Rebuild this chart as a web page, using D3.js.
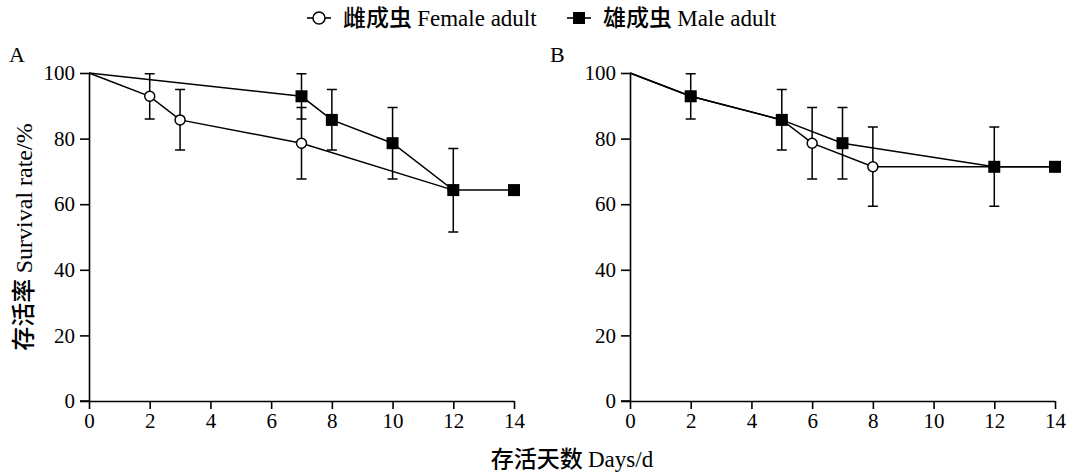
<!DOCTYPE html>
<html>
<head>
<meta charset="utf-8">
<script src="https://cdn.jsdelivr.net/npm/d3@7"></script>
<style>
  body { margin: 0; background: #fff; }
  svg text { font-family: "Liberation Serif", "Times New Roman", serif; fill: #000; }
  .cjk { font-family: "Noto Sans CJK SC", sans-serif; font-weight: 500; }
</style>
</head>
<body>
<div id="chart"></div>
<script>
const xTicks = [0, 2, 4, 6, 8, 10, 12, 14];
const yTicks = [0, 20, 40, 60, 80, 100];

// Panel A
const aFemaleDays = [0, 2, 3, 7, 12];
const aFemaleRate = [100, 92.9, 85.7, 78.6, 64.3];
const aFemaleLow  = [null, 86, 76.5, 67.7, null];
const aFemaleHigh = [null, 99.8, 95, 89.5, null];

const aMaleDays = [0, 7, 8, 10, 12, 14];
const aMaleRate = [100, 92.9, 85.7, 78.6, 64.3, 64.3];
const aMaleLow  = [null, 86, 76.5, 67.7, 51.5, null];
const aMaleHigh = [null, 99.8, 95, 89.5, 77, null];

// Panel B
const bFemaleDays = [0, 2, 5, 6, 8, 12, 14];
const bFemaleRate = [100, 92.9, 85.7, 78.6, 71.4, 71.4, 71.4];
const bFemaleLow  = [null, null, null, 67.7, 59.4, null, null];
const bFemaleHigh = [null, null, null, 89.5, 83.5, null, null];

const bMaleDays = [0, 2, 5, 7, 12, 14];
const bMaleRate = [100, 92.9, 85.7, 78.6, 71.4, 71.4];
const bMaleLow  = [null, 86, 76.5, 67.7, 59.4, null];
const bMaleHigh = [null, 99.8, 95, 89.5, 83.5, null];

function series(days, rate, low, high) {
  return days.map((d, i) => ({ day: d, rate: rate[i], low: low[i], high: high[i] }));
}

const W = 1072, H = 473;
const svg = d3.select('#chart').append('svg')
  .attr('width', W).attr('height', H);

function drawPanel(left, label, female, male) {
  const x = d3.scaleLinear().domain([0, 14]).range([left, left + 425]);
  const y = d3.scaleLinear().domain([0, 100]).range([401, 73]);
  const g = svg.append('g');

  const xAxis = g.append('g')
    .attr('transform', `translate(0,${y(0)})`)
    .call(d3.axisBottom(x).tickValues(xTicks).tickSize(8).tickPadding(4).tickSizeOuter(0));
  const yAxis = g.append('g')
    .attr('transform', `translate(${x(0)},0)`)
    .call(d3.axisLeft(y).tickValues(yTicks).tickSize(9).tickPadding(5).tickSizeOuter(0));
  [xAxis, yAxis].forEach(ax => {
    ax.selectAll('.domain, .tick line').attr('stroke', '#000').attr('stroke-width', 1.6);
    ax.selectAll('text').attr('font-size', '21px').attr('font-family', '"Liberation Serif", serif');
  });
  // extend x domain line slightly left so axes meet
  g.append('line')
    .attr('x1', x(0) - 9).attr('x2', x(0))
    .attr('y1', y(0)).attr('y2', y(0))
    .attr('stroke', '#000').attr('stroke-width', 1.6);

  g.append('text')
    .attr('x', left - 80).attr('y', 62)
    .attr('font-size', '22px')
    .text(label);

  const line = d3.line().x(d => x(d.day)).y(d => y(d.rate));

  [female, male].forEach(s => {
    g.append('path')
      .datum(s)
      .attr('d', line)
      .attr('fill', 'none')
      .attr('stroke', '#000')
      .attr('stroke-width', 1.5);

    const eb = s.filter(d => d.low != null);
    const cap = 5;
    g.selectAll(null).data(eb).join('path')
      .attr('d', d => {
        const cx = x(d.day), y1 = y(d.low), y2 = y(d.high);
        return `M${cx},${y1}V${y2}M${cx - cap},${y1}H${cx + cap}M${cx - cap},${y2}H${cx + cap}`;
      })
      .attr('fill', 'none')
      .attr('stroke', '#000')
      .attr('stroke-width', 1.5);
  });

  g.selectAll(null).data(female.filter(d => d.day > 0)).join('circle')
    .attr('cx', d => x(d.day)).attr('cy', d => y(d.rate))
    .attr('r', 5)
    .attr('fill', '#fff').attr('stroke', '#000').attr('stroke-width', 1.5);

  const s = 12;
  g.selectAll(null).data(male.filter(d => d.day > 0)).join('rect')
    .attr('x', d => x(d.day) - s / 2).attr('y', d => y(d.rate) - s / 2)
    .attr('width', s).attr('height', s)
    .attr('fill', '#000');
}

drawPanel(89, 'A',
  series(aFemaleDays, aFemaleRate, aFemaleLow, aFemaleHigh),
  series(aMaleDays, aMaleRate, aMaleLow, aMaleHigh));
drawPanel(630, 'B',
  series(bFemaleDays, bFemaleRate, bFemaleLow, bFemaleHigh),
  series(bMaleDays, bMaleRate, bMaleLow, bMaleHigh));

// Axis titles
const yt = svg.append('text')
  .attr('transform', 'translate(32,237) rotate(-90)')
  .attr('text-anchor', 'middle')
  .attr('font-size', '24px');
yt.append('tspan').attr('class', 'cjk').text('存活率 ');
yt.append('tspan').text('Survival rate/%');

const xt = svg.append('text')
  .attr('x', 572).attr('y', 467)
  .attr('text-anchor', 'middle')
  .attr('font-size', '23px');
xt.append('tspan').attr('class', 'cjk').text('存活天数 ');
xt.append('tspan').text('Days/d');

// Legend
const legend = svg.append('g');
const items = [
  { x: 307, cn: '雌成虫 ', en: 'Female adult', female: true },
  { x: 567, cn: '雄成虫 ', en: 'Male adult', female: false }
];
items.forEach(it => {
  const ly = 18;
  legend.append('line')
    .attr('x1', it.x).attr('x2', it.x + 24)
    .attr('y1', ly).attr('y2', ly)
    .attr('stroke', '#000').attr('stroke-width', 1.6);
  if (it.female) {
    legend.append('circle').attr('cx', it.x + 12).attr('cy', ly).attr('r', 6)
      .attr('fill', '#fff').attr('stroke', '#000').attr('stroke-width', 1.5);
  } else {
    legend.append('rect').attr('x', it.x + 6).attr('y', ly - 6).attr('width', 12).attr('height', 12)
      .attr('fill', '#000');
  }
  const t = legend.append('text')
    .attr('x', it.x + 36).attr('y', ly + 8)
    .attr('font-size', '23px');
  t.append('tspan').attr('class', 'cjk').text(it.cn);
  t.append('tspan').text(it.en);
});
</script>
</body>
</html>
